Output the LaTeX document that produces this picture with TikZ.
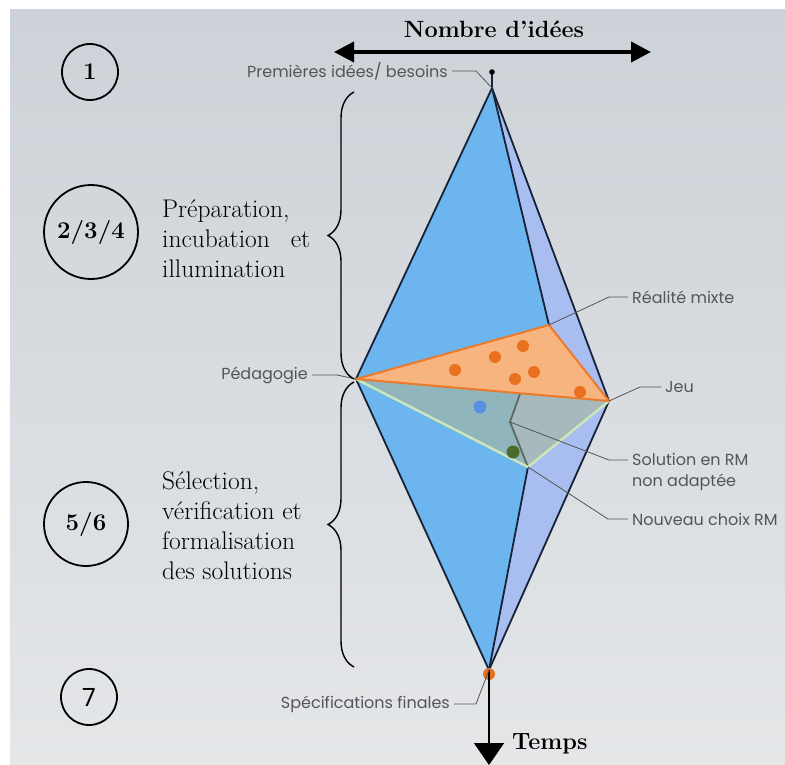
\documentclass[tikz,border=0pt]{standalone}
\usepackage{fontspec}
\usepackage{xcolor}
\usepackage{tikz}
\usetikzlibrary{arrows.meta,decorations.pathreplacing,positioning}
\newfontfamily\callfont{Poppins}
\definecolor{bgtop}{HTML}{CDD2D8}
\definecolor{bgbot}{HTML}{E4E6E8}
\definecolor{skyblue}{HTML}{6DB5EE}
\definecolor{lavblue}{HTML}{A9BEF0}
\definecolor{rimnavy}{HTML}{152238}
\definecolor{orafill}{HTML}{F8B47F}
\definecolor{oraedge}{HTML}{EB7A2B}
\definecolor{oradot}{HTML}{E8701E}
\definecolor{grnfill}{HTML}{A8B6A0}
\definecolor{grnedge}{HTML}{CDE8B8}
\definecolor{grnline}{HTML}{5D6B5E}
\definecolor{grndot}{HTML}{4B6B2C}
\definecolor{bluedot}{HTML}{5A8FE2}
\definecolor{callgray}{HTML}{555555}

\begin{document}
\begin{tikzpicture}[x=1pt,y=-1pt,
  rim/.style={draw=rimnavy,line width=1.8pt,line join=round},
  leader/.style={draw=callgray,line width=0.8pt},
  calltext/.style={font=\callfont\fontsize{16}{21}\selectfont,text=callgray,inner sep=4pt,align=left},
  bigtext/.style={font=\fontsize{25.5}{30}\selectfont,align=left,inner sep=0pt},
  headtext/.style={font=\bfseries\fontsize{23.5}{27}\selectfont,inner sep=0pt},
  phasecircle/.style={circle,draw=black,line width=1.8pt,inner sep=0pt,font=\bfseries\fontsize{24}{28}\selectfont},
  bracepath/.style={decorate,decoration={brace,amplitude=26pt},line width=1.4pt}]
  \useasboundingbox (0,0) rectangle (785,765);
  \shade[top color=bgtop,bottom color=bgbot] (10,10) rectangle (785,765);

  \coordinate (S) at (492,72);
  \coordinate (T) at (492,88);
  \coordinate (P) at (356,379);
  \coordinate (J) at (609,401);
  \coordinate (B) at (489,670);
  \coordinate (R) at (549,325);
  \coordinate (G) at (528,467);
  \coordinate (K1) at (520,394);
  \coordinate (K2) at (510,422);

  \fill[lavblue] (T) -- (P) -- (B) -- (J) -- cycle;
  \fill[skyblue] (T) -- (R) -- (K1) -- (K2) -- (G) -- (B) -- (P) -- cycle;
  \draw[rim] (T) -- (P) -- (B) -- (J) -- cycle;
  \draw[rim] (T) -- (R);
  \draw[rim] (G) -- (B);
  \draw[rimnavy,line width=1.5pt] (S) -- (T);
  \fill[black] (S) circle[radius=2.8pt];

  \fill[grnfill,opacity=0.62] (P) -- (J) -- (G) -- cycle;
  \draw[grnline,line width=1.8pt,line join=round] (K1) -- (K2) -- (G);
  \draw[grnedge,line width=2.4pt,line join=round] (J) -- (G) -- (P);
  \filldraw[fill=orafill,draw=oraedge,line width=2pt,line join=round] (P) -- (R) -- (J) -- cycle;

  \foreach \p in {(455,370),(495,357),(523,346),(515,379),(534,372),(580,392)}
    \fill[oradot] \p circle[radius=6pt];
  \fill[bluedot] (480,407) circle[radius=6.5pt];
  \fill[grndot] (513,452) circle[radius=6.5pt];
  \fill[oradot] (489,674) circle[radius=6pt];

  \coordinate (tEnd) at (489,765);
  \draw[line width=1.6pt,-{Triangle[length=22pt,width=30pt]}] (B) -- (tEnd);
  \node[headtext,anchor=west] (temps) at (512,744) {Temps};

  \coordinate (ideaL) at (334,52);
  \coordinate (ideaR) at (651,52);
  \draw[line width=4pt,{Triangle[length=20pt,width=20pt]}-{Triangle[length=20pt,width=20pt]}] (ideaL) -- (ideaR);
  \node[headtext] (nombre) at (494,29) {Nombre d’idées};

  \node[calltext,anchor=east] (lblPrem) at (452,71) {Premières idées/ besoins};
  \draw[leader] (lblPrem.east) -- ++(24,0) -- (T);
  \node[calltext,anchor=east] (lblPeda) at (312,375) {Pédagogie};
  \draw[leader] (lblPeda.east) -- ++(25,0) -- (P);
  \node[calltext,anchor=west] (lblReal) at (628,297) {Réalité mixte};
  \draw[leader] (lblReal.west) -- ++(-19,0) -- (R);
  \node[calltext,anchor=west] (lblJeu) at (661,387) {Jeu};
  \draw[leader] (lblJeu.west) -- ++(-21,0) -- (J);
  \node[calltext,anchor=north west] (lblSol) at (628,449) {Solution en RM\\non adaptée};
  \draw[leader] ([yshift=-11pt]lblSol.north west) -- ++(-19,0) -- (K2);
  \node[calltext,anchor=west] (lblNew) at (628,519) {Nouveau choix RM};
  \draw[leader] (lblNew.west) -- ++(-20,0) -- (G);
  \node[calltext,anchor=east] (lblSpec) at (454,704) {Spécifications finales};
  \draw[leader] (lblSpec.east) -- ++(22,0) -- (B);

  \draw[bracepath] (354,379) -- (354,92);
  \draw[bracepath] (354,667) -- (354,382);

  \node[phasecircle,minimum size=56pt] (ph1) at (90,72) {1};
  \node[phasecircle,minimum size=94pt] (ph234) at (91,232) {2/3/4};
  \node[phasecircle,minimum size=84pt] (ph56) at (86,524) {5/6};
  \node[phasecircle,minimum size=56pt,font=\callfont\fontsize{25}{28}\selectfont] (ph7) at (89,697) {7};

  \node[bigtext,anchor=west] (txtPrep) at (162,239) {Préparation,\\\makebox[148pt][s]{incubation et}\\illumination};
  \node[bigtext,anchor=west] (txtSel) at (162,526) {Sélection,\\vérification et\\formalisation\\des solutions};
\end{tikzpicture}
\end{document}
